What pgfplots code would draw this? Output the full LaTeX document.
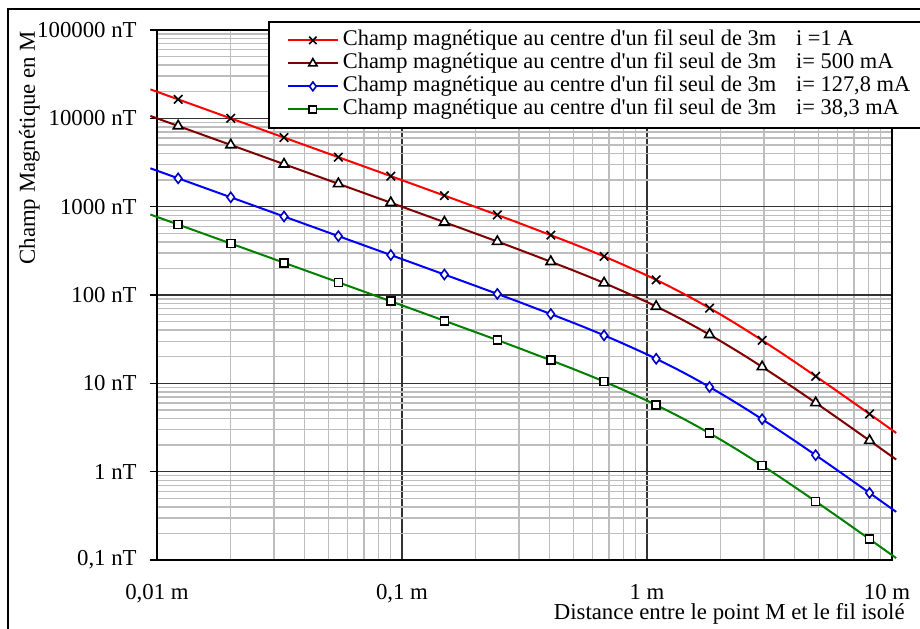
\documentclass[border=0pt]{standalone}
\usepackage{fontspec}
\setmainfont{Liberation Serif}[Ligatures=TeXOff]
\usepackage{pgfplots}
\pgfplotsset{compat=1.18}
\definecolor{cred}{RGB}{255,0,0}
\definecolor{cdred}{RGB}{128,0,0}
\definecolor{cblue}{RGB}{0,0,255}
\definecolor{cgreen}{RGB}{0,128,0}
\begin{document}
\fontsize{11.4}{12}\selectfont
\begin{tikzpicture}
\draw[black, line width=1pt] (4pt,-4.5pt) rectangle (480pt,-340pt);
\begin{axis}[
  at={(78.5pt,-280pt)}, anchor=south west,
  width=367.5pt, height=265pt, scale only axis,
  xmode=log, ymode=log,
  xmin=0.01, xmax=10, ymin=0.1, ymax=100000,
  clip=false,
  xtick={0.01,0.1,1,10},
  xticklabels={{0,01 m},{0,1 m},{1 m},{10 m\hspace*{5pt}}},
  minor xtick={0.02,0.03,0.04,0.05,0.06,0.07,0.08,0.09,0.2,0.3,0.4,0.5,0.6,0.7,0.8,0.9,2,3,4,5,6,7,8,9},
  ytick={0.1,1,10,100,1000,10000,100000},
  yticklabels={{0,1 nT},{1 nT},{10 nT},{100 nT},{1000 nT},{10000 nT},{100000 nT}},
  minor ytick={0.2,0.3,0.4,0.5,0.6,0.7,0.8,0.9,2,3,4,5,6,7,8,9,20,30,40,50,60,70,80,90,200,300,400,500,600,700,800,900,2000,3000,4000,5000,6000,7000,8000,9000,20000,30000,40000,50000,60000,70000,80000,90000},
  grid=both,
  major grid style={black!80, line width=0.8pt},
  minor grid style={black!26, line width=0.7pt},
  axis line style={black, line width=0.8pt},
  tick align=outside,
  major tick length=3.5pt, minor tick length=0pt,
  xtick style={draw=none},
  ytick style={black, line width=0.8pt},
  xtick pos=bottom, ytick pos=left,
  xticklabel style={anchor=base, yshift=-16pt, inner sep=0pt},
  yticklabel style={anchor=east, inner sep=0pt, xshift=-6.5pt},
  xlabel={Distance entre le point M et le fil isolé},
  xlabel style={at={(axis description cs:1.0177,-0.1113)}, anchor=base east, inner sep=0pt},
  ylabel={Champ Magnétique en M},
  ylabel style={at={(axis description cs:-0.166,0.778)}, anchor=base, inner sep=0pt},
  legend style={at={(axis description cs:0.151,1.017)}, anchor=north west,
    draw=black, line width=0.9pt, fill=white, inner xsep=0pt, inner ysep=3.5pt,
    row sep=0pt, font=\fontsize{11.2}{12}\selectfont,
    nodes={inner xsep=0pt, inner ysep=0.5pt, text height=8pt, text depth=2.5pt, anchor=west}},
  legend cell align=left,
  legend image code/.code={\path (0pt,0pt) (36pt,0pt);
    \draw[mark repeat=2,mark phase=2,#1] plot coordinates {(9pt,0pt) (21.5pt,0pt) (34pt,0pt)};},
]
% ---- lines
\addplot[cred, line width=1pt, smooth, no marks, forget plot] coordinates {
(0.0094,21276) (0.02,9999.1) (0.05,3997.8) (0.1,1995.6) (0.2,991.2) (0.3,653.7) (0.5,379.5) (0.7,258.9) (1.0,166.4) (1.3,116.26) (1.6,85.49) (2.0,60.0) (2.5,41.16) (3.2,26.53) (4.0,17.556) (5.0,11.494) (6.3,7.353) (8.0,4.607) (10.4,2.745)};
\addplot[cdred, line width=1pt, smooth, no marks, forget plot] coordinates {
(0.0094,10638) (0.02,4999.6) (0.05,1998.9) (0.1,997.8) (0.2,495.6) (0.3,326.9) (0.5,189.75) (0.7,129.45) (1.0,83.2) (1.3,58.13) (1.6,42.75) (2.0,30.0) (2.5,20.58) (3.2,13.27) (4.0,8.778) (5.0,5.747) (6.3,3.677) (8.0,2.304) (10.4,1.3726)};
\addplot[cblue, line width=1pt, smooth, no marks, forget plot] coordinates {
(0.0094,2719.1) (0.02,1277.9) (0.05,510.9) (0.1,255.04) (0.2,126.68) (0.3,83.54) (0.5,48.50) (0.7,33.09) (1.0,21.27) (1.3,14.86) (1.6,10.93) (2.0,7.668) (2.5,5.260) (3.2,3.390) (4.0,2.244) (5.0,1.469) (6.3,0.9397) (8.0,0.5888) (10.4,0.3508)};
\addplot[cgreen, line width=1pt, smooth, no marks, forget plot] coordinates {
(0.0094,814.9) (0.02,383.0) (0.05,153.11) (0.1,76.43) (0.2,37.96) (0.3,25.04) (0.5,14.535) (0.7,9.916) (1.0,6.373) (1.3,4.453) (1.6,3.274) (2.0,2.298) (2.5,1.576) (3.2,1.0161) (4.0,0.6724) (5.0,0.4402) (6.3,0.2816) (8.0,0.1764) (10.4,0.10514)};
% ---- markers
\addplot[only marks, mark=x, mark size=3pt, mark options={black, line width=0.8pt}, forget plot] coordinates {
(0.0122,16393) (0.02,9999) (0.033,6059) (0.055,3634) (0.09,2218) (0.149,1336) (0.245,806) (0.405,477) (0.668,273.5) (1.09,148.4) (1.8,71.1) (2.95,30.7) (4.88,12.04) (8.1,4.50)};
\addplot[only marks, mark=triangle*, mark size=2.8pt, mark options={draw=black, fill=white, line width=0.8pt}, forget plot] coordinates {
(0.0122,8196.5) (0.02,4999.6) (0.033,3029.6) (0.055,1817.0) (0.09,1109.1) (0.149,667.9) (0.245,402.8) (0.405,238.4) (0.668,136.75) (1.09,74.2) (1.8,35.57) (2.95,15.37) (4.88,6.02) (8.1,2.248)};
\addplot[only marks, mark=diamond*, mark size=2.5pt, mark options={draw=blue!75!black, fill=white, line width=0.8pt}, forget plot] coordinates {
(0.0122,2095.0) (0.02,1277.9) (0.033,774.4) (0.055,464.4) (0.09,283.5) (0.149,170.7) (0.245,102.96) (0.405,60.93) (0.668,34.95) (1.09,18.97) (1.8,9.090) (2.95,3.927) (4.88,1.539) (8.1,0.5746)};
\addplot[only marks, mark=square*, mark size=2pt, mark options={draw=black, fill=white, line width=0.8pt}, forget plot] coordinates {
(0.0122,627.9) (0.02,383.0) (0.033,232.07) (0.055,139.18) (0.09,84.96) (0.149,51.16) (0.245,30.85) (0.405,18.26) (0.668,10.475) (1.09,5.684) (1.8,2.724) (2.95,1.177) (4.88,0.4612) (8.1,0.1722)};
% ---- legend
\addlegendimage{cred, line width=1pt, mark=x, mark size=2.6pt, mark options={black, line width=0.8pt}}
\addlegendentry{\makebox[305pt][l]{Champ magnétique au centre d'un fil seul de 3m\hspace{10pt}i =1 A}}
\addlegendimage{cdred, line width=1pt, mark=triangle*, mark size=2.4pt, mark options={draw=black, fill=white, line width=0.8pt}}
\addlegendentry{\makebox[305pt][l]{Champ magnétique au centre d'un fil seul de 3m\hspace{10pt}i= 500 mA}}
\addlegendimage{cblue, line width=1pt, mark=diamond*, mark size=2.2pt, mark options={draw=blue!75!black, fill=white, line width=0.8pt}}
\addlegendentry{\makebox[305pt][l]{Champ magnétique au centre d'un fil seul de 3m\hspace{10pt}i= 127,8 mA}}
\addlegendimage{cgreen, line width=1pt, mark=square*, mark size=1.8pt, mark options={draw=black, fill=white, line width=0.8pt}}
\addlegendentry{\makebox[305pt][l]{Champ magnétique au centre d'un fil seul de 3m\hspace{10pt}i= 38,3 mA}}
\end{axis}
\pgfresetboundingbox
\useasboundingbox (0pt,0pt) rectangle (460pt,-314pt);
\end{tikzpicture}
\end{document}
